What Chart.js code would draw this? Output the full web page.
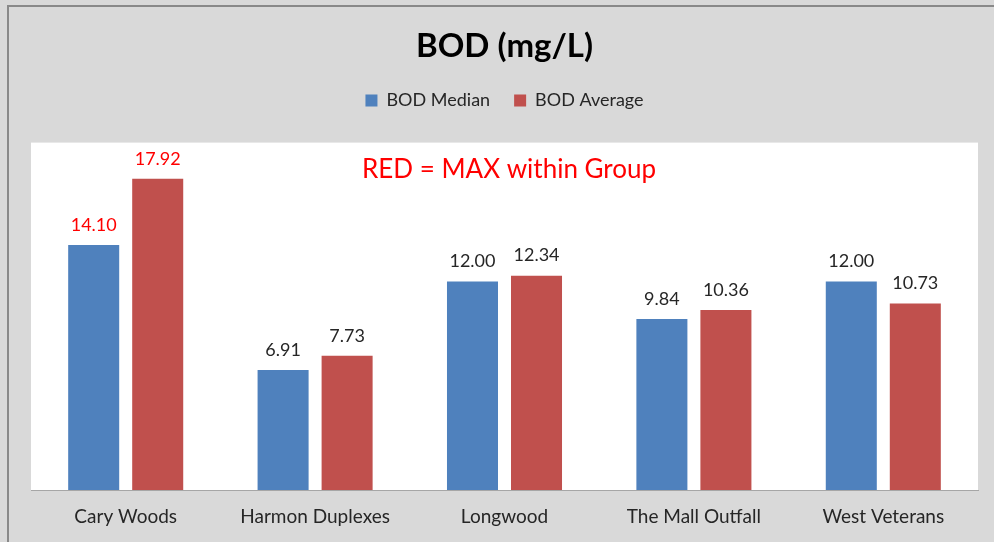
<!DOCTYPE html>
<html>
<head>
<meta charset="utf-8">
<script src="https://cdn.jsdelivr.net/npm/chart.js@4"></script>
<style>
  html, body { margin: 0; padding: 0; background: #d9d9d9; }
  #wrap { width: 994px; height: 542px; }
</style>
</head>
<body>
<div id="wrap"><canvas id="bodChart" width="994" height="542"></canvas></div>
<script>
const sites = ["Cary Woods", "Harmon Duplexes", "Longwood", "The Mall Outfall", "West Veterans"];
const bodMedian = [14.10, 6.91, 12.00, 9.84, 12.00];
const bodAverage = [17.92, 7.73, 12.34, 10.36, 10.73];
// groups whose labels are shown in red
const maxGroup = [true, false, false, false, false];

const FONT = "Lato, 'Open Sans', sans-serif";

// grey frame, white plot area, the note and the value labels
const framePlugin = {
  id: "frame",
  beforeDraw(chart) {
    const ctx = chart.ctx;
    const a = chart.chartArea;
    ctx.save();
    ctx.fillStyle = "#d9d9d9";
    ctx.fillRect(0, 0, chart.width, chart.height);
    ctx.fillStyle = "#898989";
    ctx.fillRect(7, 5, chart.width - 7, 2);
    ctx.fillRect(7, 5, 2, chart.height - 5);
    ctx.fillStyle = "#ffffff";
    ctx.fillRect(a.left, a.top, a.right - a.left, a.bottom - a.top);
    ctx.restore();
  },
  afterDatasetsDraw(chart) {
    const ctx = chart.ctx;
    ctx.save();
    ctx.font = "18px " + FONT;
    ctx.textAlign = "center";
    ctx.textBaseline = "middle";
    chart.data.datasets.forEach((ds, di) => {
      chart.getDatasetMeta(di).data.forEach((bar, i) => {
        ctx.fillStyle = maxGroup[i] ? "#ff0000" : "#262626";
        ctx.fillText(ds.data[i].toFixed(2), bar.x, bar.y - 20);
      });
    });
    ctx.font = "26px " + FONT;
    ctx.fillStyle = "#ff0000";
    ctx.fillText("RED = MAX within Group", 509, 170);
    ctx.restore();
  }
};

new Chart(document.getElementById("bodChart"), {
  type: "bar",
  data: {
    labels: sites,
    datasets: [
      { label: "BOD Median", data: bodMedian, backgroundColor: "#4f81bd" },
      { label: "BOD Average", data: bodAverage, backgroundColor: "#c0504d" }
    ]
  },
  options: {
    responsive: false,
    animation: false,
    categoryPercentage: 0.676,
    barPercentage: 0.797,
    layout: { padding: { left: 31, right: 16, top: 0, bottom: 0 } },
    scales: {
      x: {
        grid: { display: false, drawTicks: false },
        border: { display: true, color: "#a6a6a6", width: 1 },
        ticks: { color: "#262626", font: { family: FONT, size: 19 }, padding: 15 },
        afterFit(scale) { scale.height = 52; }
      },
      // empty band between the legend and the plot area
      gap: {
        type: "category",
        position: "top",
        grid: { display: false, drawTicks: false },
        border: { display: false },
        ticks: { display: false },
        afterFit(scale) { scale.height = 23; }
      },
      y: {
        display: false,
        min: 0,
        max: 20
      }
    },
    plugins: {
      tooltip: { enabled: false },
      title: {
        display: true,
        text: "BOD (mg/L)",
        color: "#000000",
        font: { family: FONT, size: 33, weight: "bold" },
        padding: { top: 27, bottom: 1 }
      },
      legend: {
        display: true,
        labels: {
          color: "#262626",
          font: { family: FONT, size: 18 },
          boxWidth: 12,
          boxHeight: 12,
          padding: 24
        }
      }
    }
  },
  plugins: [framePlugin]
});
</script>
</body>
</html>
